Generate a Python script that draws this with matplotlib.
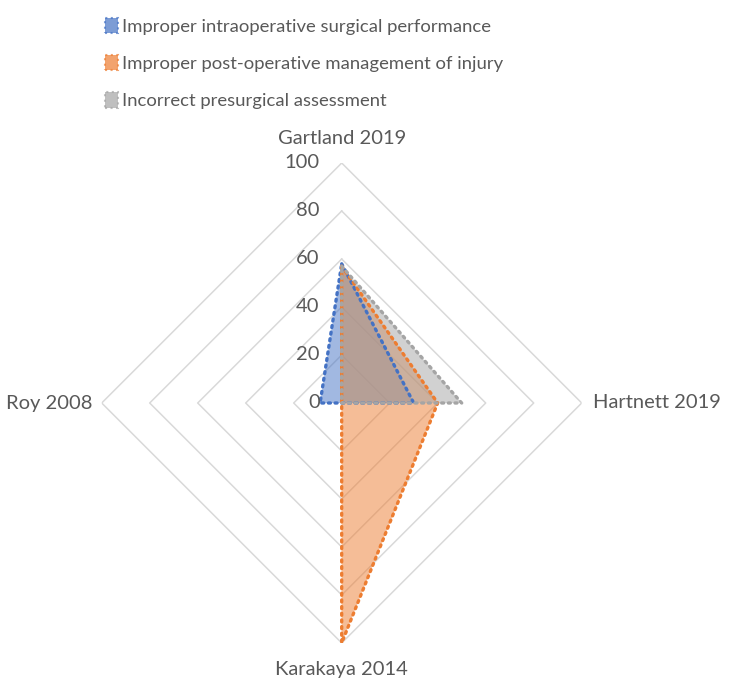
import numpy as np
import matplotlib
matplotlib.use('Agg')
import matplotlib.pyplot as plt
from matplotlib.patches import Patch

# data ---------------------------------------------------------------------
categories = ['Gartland 2019', 'Hartnett 2019', 'Karakaya 2014', 'Roy 2008']
intraoperative = [58, 30, 0, 9]
postoperative = [57, 40, 100, 0]
presurgical = [57, 50, 0, 0]
series_names = ['Improper intraoperative surgical performance',
                'Improper post-operative management of injury',
                'Incorrect presurgical assessment']
rticks = [0, 20, 40, 60, 80, 100]
# --------------------------------------------------------------------------

colors = ['#4472C4', '#ED7D31', '#A5A5A5']
text_color = '#595959'
plt.rcParams['font.family'] = ['Lato', 'DejaVu Sans']

fig = plt.figure(figsize=(7.34, 6.9), dpi=100)
cx, cy, r = 341.7 / 734, 1 - 403 / 690, 240
rw, rh = r / 734, r / 690
ax = fig.add_axes([cx - rw, cy - rh, 2 * rw, 2 * rh], projection='polar')
ax.set_theta_zero_location('N')
ax.set_theta_direction(-1)
ax.set_ylim(0, 100)
ax.grid(False)
ax.spines['polar'].set_visible(False)
ax.set_xticks([])
ax.set_yticks([])
ax.patch.set_alpha(0)

angles = np.linspace(0, 2 * np.pi, len(categories), endpoint=False)
closed = np.append(angles, angles[0])

# diamond gridlines
for t in rticks[1:]:
    ax.plot(closed, [t] * len(closed), color='#D9D9D9', lw=1.1, zorder=1)

for vals, c in zip([intraoperative, postoperative, presurgical], colors):
    v = np.append(vals, vals[0])
    ax.fill(closed, v, color=c, alpha=0.5, lw=0, zorder=2)
    ax.plot(closed, v, color=c, lw=2.4, ls=(0, (0.6, 1.4)),
            dash_capstyle='round', zorder=3)

for t in rticks:
    ax.annotate(str(t), xy=(0, t), xytext=(-22, 0), textcoords='offset pixels',
                ha='right', va='center', fontsize=14.5, color=text_color, zorder=4)

offsets = [(0, 25, 'center', 'center'), (11, 0, 'left', 'center'),
           (0, -26, 'center', 'center'), (-9, 0, 'right', 'center')]
for a, name, (dx, dy, ha, va) in zip(angles, categories, offsets):
    ax.annotate(name, xy=(a, 100), xytext=(dx, dy), textcoords='offset pixels',
                ha=ha, va=va, fontsize=14.5, color=text_color, annotation_clip=False)

handles = [Patch(facecolor=c, edgecolor=c, alpha=0.7, linestyle=':', lw=1.5)
           for c in colors]
fig.legend(handles, series_names, loc='upper left',
           bbox_to_anchor=(88 / 734, 1 - 1 / 690), frameon=False,
           fontsize=13.3, labelcolor=text_color, handlelength=0.7,
           handleheight=0.9, handletextpad=0.25, labelspacing=1.1)

fig.savefig('out.png', dpi=100)
